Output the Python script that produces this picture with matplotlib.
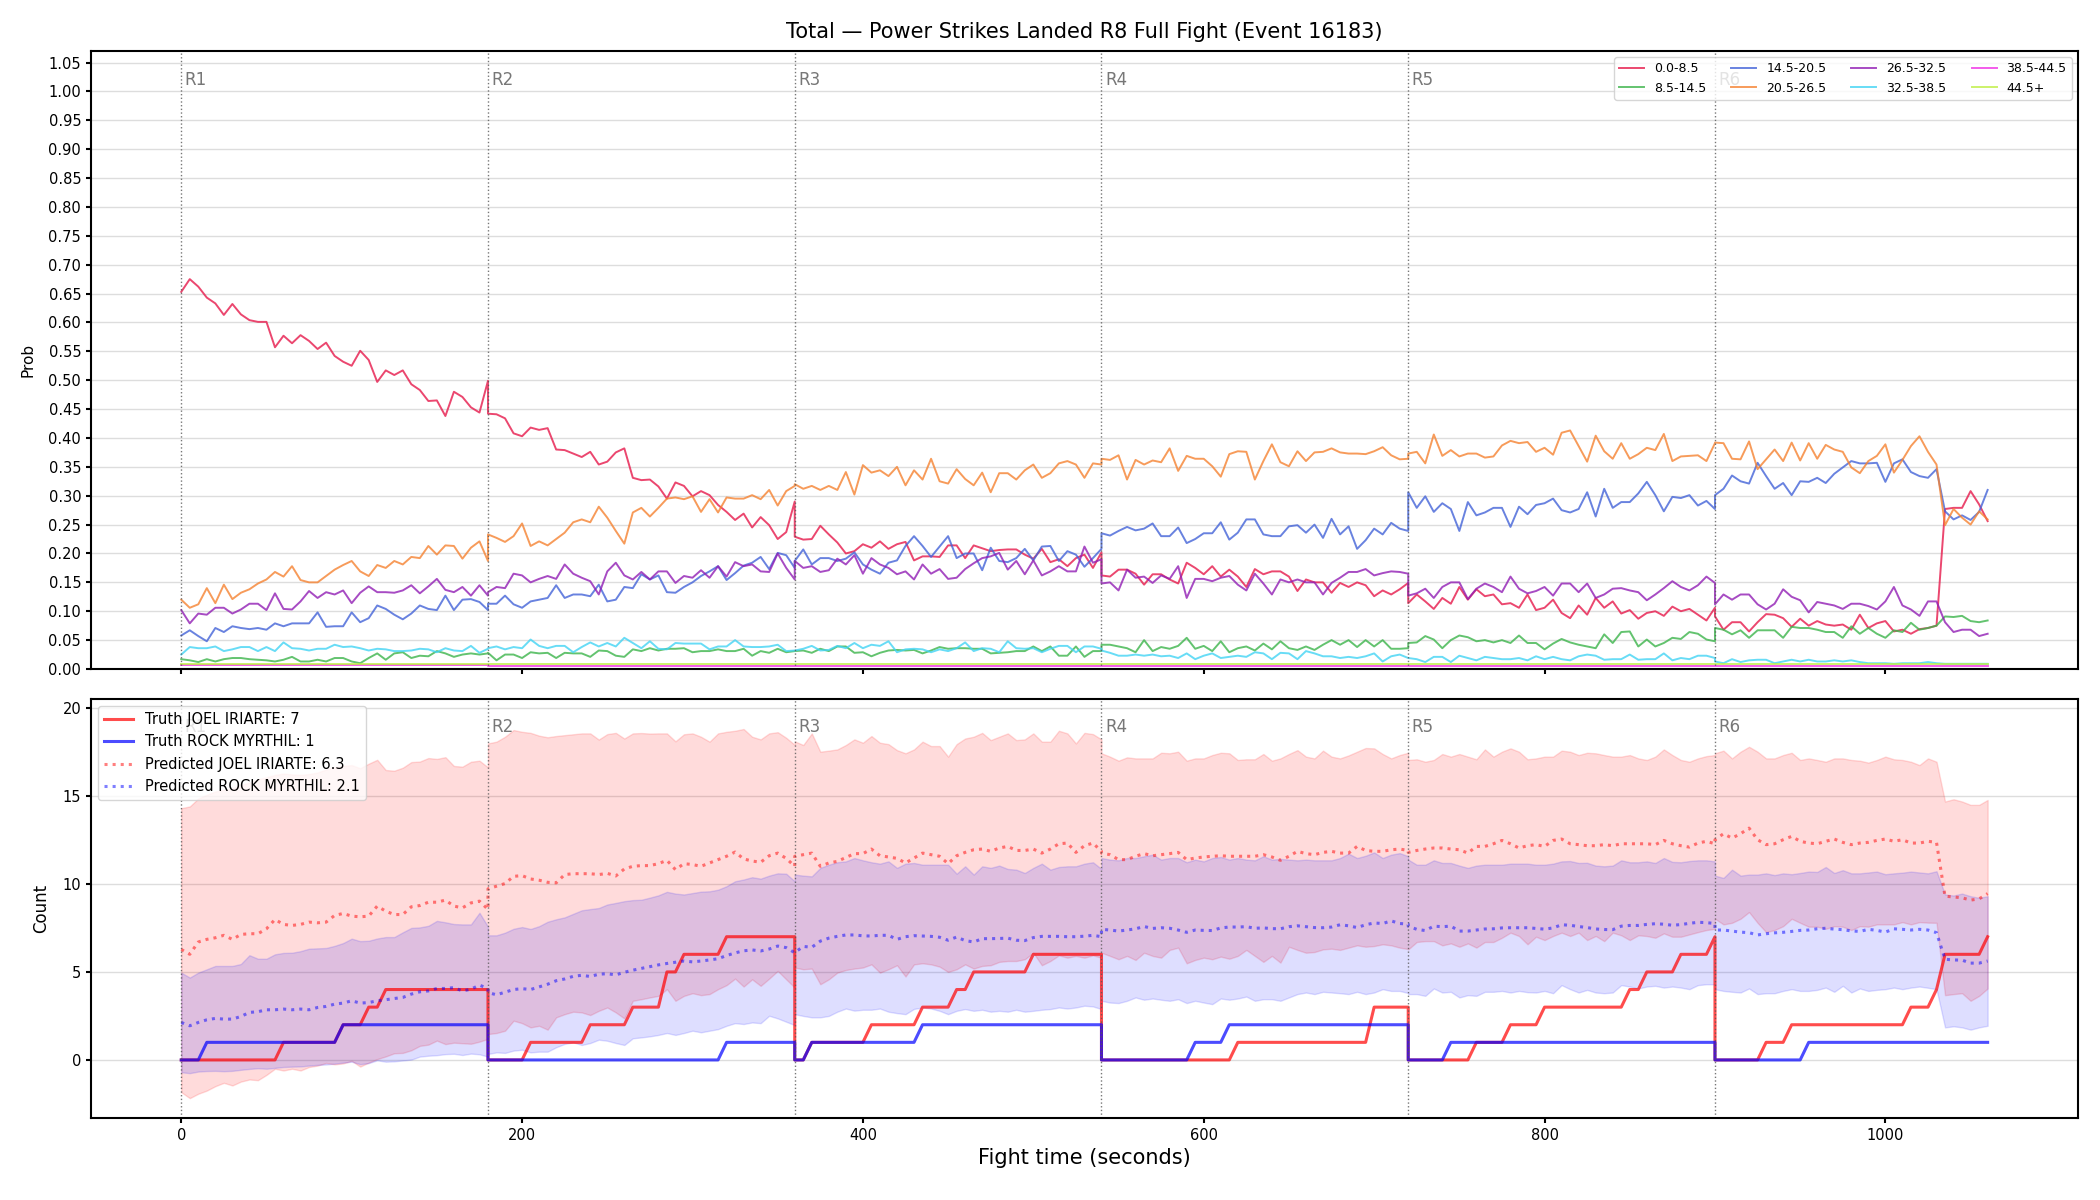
import numpy as np
import matplotlib
matplotlib.use('Agg')
import matplotlib.pyplot as plt
from matplotlib.ticker import MultipleLocator, FormatStrFormatter

# rounds, sampled every 5 s
round_starts = [0, 180, 360, 540, 720, 900]
round_ends = [180, 360, 540, 720, 900, 1060]
round_names = ['R1', 'R2', 'R3', 'R4', 'R5', 'R6']
step = 5

bins = ['0.0-8.5', '8.5-14.5', '14.5-20.5', '20.5-26.5',
        '26.5-32.5', '32.5-38.5', '38.5-44.5', '44.5+']
bin_colors = ['#e6194b', '#3cb44b', '#4363d8', '#f58231',
              '#911eb4', '#42d4f4', '#f032e6', '#bfef45']

p_0_8 = [
    0.653, 0.675, 0.662, 0.643, 0.633, 0.613, 0.632, 0.614, 0.604, 0.601, 0.601, 0.557, 0.577, 0.564, 0.578, 0.568, 0.554, 0.565, 0.542,
    0.532, 0.525, 0.551, 0.535, 0.497, 0.517, 0.509, 0.517, 0.493, 0.483, 0.464, 0.465, 0.438, 0.480, 0.471, 0.453, 0.444, 0.499,
    0.442, 0.441, 0.434, 0.408, 0.403, 0.418, 0.414, 0.417, 0.380, 0.379, 0.373, 0.367, 0.376, 0.354, 0.359, 0.375, 0.382, 0.331, 0.327,
    0.328, 0.316, 0.295, 0.323, 0.317, 0.299, 0.308, 0.301, 0.284, 0.272, 0.258, 0.269, 0.245, 0.263, 0.249, 0.225, 0.237, 0.290,
    0.229, 0.224, 0.225, 0.248, 0.233, 0.219, 0.200, 0.204, 0.216, 0.210, 0.221, 0.208, 0.216, 0.220, 0.188, 0.195, 0.195, 0.194, 0.214,
    0.214, 0.192, 0.214, 0.209, 0.204, 0.206, 0.207, 0.207, 0.198, 0.191, 0.208, 0.185, 0.190, 0.178, 0.192, 0.198, 0.175, 0.202,
    0.162, 0.160, 0.172, 0.172, 0.165, 0.146, 0.164, 0.164, 0.155, 0.148, 0.184, 0.175, 0.164, 0.178, 0.160, 0.172, 0.160, 0.142, 0.173,
    0.164, 0.169, 0.169, 0.160, 0.135, 0.155, 0.150, 0.150, 0.132, 0.149, 0.142, 0.150, 0.145, 0.126, 0.136, 0.129, 0.138, 0.149,
    0.114, 0.129, 0.117, 0.104, 0.123, 0.113, 0.142, 0.120, 0.138, 0.126, 0.129, 0.112, 0.114, 0.106, 0.129, 0.102, 0.106, 0.120, 0.097,
    0.088, 0.110, 0.094, 0.123, 0.106, 0.117, 0.096, 0.102, 0.087, 0.097, 0.100, 0.092, 0.108, 0.100, 0.104, 0.094, 0.084, 0.106,
    0.091, 0.068, 0.081, 0.081, 0.065, 0.081, 0.095, 0.094, 0.088, 0.073, 0.087, 0.075, 0.083, 0.077, 0.075, 0.077, 0.068,
    0.094, 0.071, 0.079, 0.083, 0.065, 0.068, 0.061, 0.069, 0.071, 0.075, 0.277, 0.279, 0.279, 0.308, 0.285, 0.256,
]
p_8_14 = [
    0.017, 0.015, 0.012, 0.017, 0.013, 0.017, 0.019, 0.019, 0.017, 0.016, 0.015, 0.013, 0.016, 0.021, 0.013, 0.013, 0.016, 0.013, 0.019,
    0.019, 0.013, 0.010, 0.019, 0.027, 0.016, 0.027, 0.029, 0.019, 0.023, 0.022, 0.031, 0.027, 0.021, 0.025, 0.027, 0.025, 0.027,
    0.028, 0.015, 0.025, 0.025, 0.019, 0.029, 0.027, 0.028, 0.019, 0.028, 0.027, 0.027, 0.021, 0.032, 0.031, 0.023, 0.021, 0.034, 0.031,
    0.036, 0.032, 0.035, 0.035, 0.036, 0.029, 0.031, 0.031, 0.034, 0.031, 0.031, 0.035, 0.023, 0.031, 0.028, 0.035, 0.029, 0.031,
    0.031, 0.032, 0.028, 0.035, 0.031, 0.039, 0.039, 0.028, 0.029, 0.022, 0.028, 0.032, 0.033, 0.032, 0.033, 0.027, 0.032, 0.038, 0.035,
    0.036, 0.036, 0.035, 0.035, 0.027, 0.028, 0.029, 0.031, 0.031, 0.039, 0.031, 0.039, 0.023, 0.023, 0.039, 0.021, 0.031, 0.031,
    0.042, 0.042, 0.039, 0.036, 0.029, 0.050, 0.031, 0.038, 0.035, 0.040, 0.054, 0.035, 0.040, 0.031, 0.048, 0.029, 0.036, 0.039, 0.032,
    0.044, 0.034, 0.048, 0.036, 0.033, 0.039, 0.033, 0.042, 0.050, 0.042, 0.050, 0.038, 0.050, 0.039, 0.050, 0.035, 0.035, 0.036,
    0.045, 0.046, 0.057, 0.051, 0.036, 0.050, 0.058, 0.055, 0.048, 0.050, 0.046, 0.050, 0.045, 0.058, 0.045, 0.045, 0.034, 0.044, 0.052,
    0.046, 0.042, 0.039, 0.036, 0.060, 0.045, 0.064, 0.065, 0.039, 0.051, 0.039, 0.045, 0.054, 0.052, 0.064, 0.061, 0.051, 0.048,
    0.071, 0.068, 0.060, 0.067, 0.054, 0.067, 0.067, 0.067, 0.054, 0.073, 0.071, 0.071, 0.068, 0.064, 0.064, 0.054, 0.074,
    0.061, 0.071, 0.061, 0.054, 0.067, 0.064, 0.080, 0.068, 0.071, 0.075, 0.091, 0.090, 0.092, 0.083, 0.081, 0.084,
]
p_14_20 = [
    0.058, 0.067, 0.057, 0.048, 0.071, 0.064, 0.074, 0.071, 0.069, 0.071, 0.068, 0.079, 0.074, 0.079, 0.079, 0.079, 0.098, 0.073, 0.074,
    0.074, 0.098, 0.081, 0.088, 0.110, 0.104, 0.094, 0.086, 0.096, 0.110, 0.104, 0.102, 0.127, 0.102, 0.120, 0.121, 0.116, 0.102,
    0.113, 0.113, 0.127, 0.112, 0.106, 0.117, 0.120, 0.123, 0.145, 0.123, 0.129, 0.129, 0.126, 0.146, 0.117, 0.120, 0.142, 0.140, 0.164,
    0.155, 0.162, 0.133, 0.132, 0.142, 0.150, 0.161, 0.169, 0.178, 0.154, 0.166, 0.179, 0.184, 0.194, 0.173, 0.201, 0.197, 0.175,
    0.187, 0.207, 0.181, 0.192, 0.192, 0.187, 0.191, 0.202, 0.181, 0.172, 0.165, 0.184, 0.188, 0.213, 0.230, 0.213, 0.194, 0.212, 0.230,
    0.192, 0.200, 0.200, 0.171, 0.210, 0.187, 0.185, 0.192, 0.208, 0.188, 0.212, 0.213, 0.187, 0.204, 0.198, 0.177, 0.192, 0.208,
    0.235, 0.231, 0.239, 0.246, 0.240, 0.243, 0.252, 0.230, 0.230, 0.245, 0.218, 0.225, 0.235, 0.235, 0.254, 0.224, 0.236, 0.259, 0.259,
    0.233, 0.230, 0.230, 0.247, 0.249, 0.236, 0.250, 0.227, 0.260, 0.233, 0.247, 0.208, 0.223, 0.243, 0.233, 0.253, 0.243, 0.239,
    0.306, 0.279, 0.299, 0.272, 0.287, 0.277, 0.239, 0.289, 0.266, 0.271, 0.279, 0.279, 0.246, 0.281, 0.268, 0.284, 0.287, 0.295, 0.275,
    0.271, 0.277, 0.306, 0.264, 0.312, 0.279, 0.289, 0.289, 0.304, 0.324, 0.301, 0.273, 0.298, 0.296, 0.301, 0.283, 0.291, 0.277,
    0.301, 0.312, 0.335, 0.325, 0.321, 0.357, 0.334, 0.312, 0.322, 0.301, 0.325, 0.324, 0.331, 0.322, 0.338, 0.349, 0.360,
    0.356, 0.356, 0.357, 0.324, 0.356, 0.363, 0.341, 0.334, 0.331, 0.346, 0.273, 0.259, 0.266, 0.258, 0.272, 0.310,
]
p_20_26 = [
    0.120, 0.106, 0.112, 0.140, 0.114, 0.146, 0.121, 0.132, 0.138, 0.148, 0.155, 0.168, 0.160, 0.178, 0.154, 0.150, 0.150, 0.161, 0.172,
    0.180, 0.187, 0.169, 0.161, 0.180, 0.175, 0.187, 0.181, 0.194, 0.192, 0.213, 0.198, 0.214, 0.213, 0.191, 0.210, 0.221, 0.187,
    0.233, 0.227, 0.220, 0.230, 0.252, 0.213, 0.221, 0.214, 0.225, 0.236, 0.254, 0.259, 0.254, 0.281, 0.262, 0.239, 0.217, 0.271, 0.279,
    0.264, 0.279, 0.295, 0.297, 0.294, 0.299, 0.272, 0.294, 0.271, 0.297, 0.295, 0.295, 0.301, 0.294, 0.310, 0.283, 0.308, 0.317,
    0.320, 0.312, 0.317, 0.310, 0.317, 0.310, 0.341, 0.302, 0.353, 0.340, 0.344, 0.334, 0.350, 0.318, 0.344, 0.328, 0.364, 0.325, 0.321,
    0.346, 0.329, 0.318, 0.340, 0.306, 0.339, 0.339, 0.328, 0.344, 0.354, 0.331, 0.339, 0.356, 0.360, 0.354, 0.331, 0.356, 0.354,
    0.364, 0.362, 0.370, 0.328, 0.362, 0.354, 0.361, 0.358, 0.382, 0.343, 0.369, 0.364, 0.364, 0.351, 0.333, 0.372, 0.377, 0.376, 0.328,
    0.360, 0.389, 0.358, 0.351, 0.377, 0.360, 0.375, 0.376, 0.382, 0.375, 0.373, 0.373, 0.372, 0.377, 0.384, 0.370, 0.363, 0.364,
    0.373, 0.376, 0.356, 0.406, 0.369, 0.379, 0.368, 0.373, 0.373, 0.366, 0.368, 0.387, 0.395, 0.391, 0.393, 0.376, 0.383, 0.371, 0.409,
    0.413, 0.386, 0.359, 0.404, 0.377, 0.364, 0.391, 0.364, 0.372, 0.383, 0.379, 0.407, 0.360, 0.368, 0.369, 0.370, 0.360, 0.391,
    0.392, 0.391, 0.364, 0.363, 0.394, 0.346, 0.363, 0.380, 0.360, 0.392, 0.361, 0.391, 0.364, 0.388, 0.380, 0.376, 0.349,
    0.339, 0.360, 0.369, 0.389, 0.340, 0.362, 0.386, 0.403, 0.376, 0.354, 0.249, 0.277, 0.262, 0.250, 0.273, 0.259,
]
p_26_32 = [
    0.102, 0.079, 0.096, 0.094, 0.106, 0.106, 0.096, 0.103, 0.113, 0.113, 0.102, 0.131, 0.104, 0.103, 0.117, 0.135, 0.123, 0.133, 0.129,
    0.136, 0.114, 0.132, 0.143, 0.133, 0.133, 0.132, 0.136, 0.145, 0.131, 0.143, 0.156, 0.137, 0.133, 0.142, 0.127, 0.145, 0.127,
    0.133, 0.142, 0.140, 0.165, 0.162, 0.150, 0.156, 0.161, 0.156, 0.181, 0.165, 0.158, 0.152, 0.129, 0.169, 0.184, 0.162, 0.155, 0.168,
    0.155, 0.169, 0.169, 0.149, 0.161, 0.158, 0.171, 0.158, 0.178, 0.160, 0.185, 0.178, 0.181, 0.169, 0.168, 0.200, 0.175, 0.155,
    0.187, 0.175, 0.178, 0.168, 0.171, 0.191, 0.181, 0.197, 0.165, 0.192, 0.181, 0.175, 0.164, 0.169, 0.155, 0.181, 0.165, 0.173, 0.156,
    0.158, 0.173, 0.183, 0.192, 0.195, 0.201, 0.172, 0.187, 0.164, 0.188, 0.162, 0.169, 0.178, 0.169, 0.169, 0.212, 0.184, 0.190,
    0.148, 0.150, 0.136, 0.172, 0.158, 0.160, 0.149, 0.162, 0.156, 0.178, 0.123, 0.156, 0.156, 0.152, 0.158, 0.161, 0.146, 0.136, 0.165,
    0.148, 0.129, 0.155, 0.150, 0.155, 0.150, 0.150, 0.129, 0.149, 0.158, 0.168, 0.168, 0.173, 0.162, 0.166, 0.169, 0.168, 0.165,
    0.127, 0.131, 0.139, 0.123, 0.142, 0.150, 0.150, 0.121, 0.139, 0.148, 0.142, 0.133, 0.160, 0.139, 0.131, 0.135, 0.142, 0.127, 0.148,
    0.148, 0.133, 0.148, 0.123, 0.129, 0.139, 0.140, 0.136, 0.133, 0.119, 0.129, 0.140, 0.152, 0.142, 0.136, 0.145, 0.160, 0.149,
    0.112, 0.129, 0.120, 0.129, 0.129, 0.112, 0.103, 0.113, 0.138, 0.125, 0.119, 0.098, 0.116, 0.113, 0.110, 0.104, 0.113,
    0.113, 0.109, 0.103, 0.117, 0.142, 0.110, 0.103, 0.092, 0.117, 0.117, 0.081, 0.064, 0.068, 0.068, 0.057, 0.061,
]
p_32_38 = [
    0.025, 0.038, 0.036, 0.036, 0.039, 0.031, 0.034, 0.038, 0.038, 0.031, 0.038, 0.031, 0.046, 0.036, 0.035, 0.032, 0.035, 0.035, 0.042,
    0.038, 0.039, 0.036, 0.032, 0.035, 0.034, 0.031, 0.031, 0.032, 0.035, 0.034, 0.029, 0.036, 0.032, 0.031, 0.040, 0.028, 0.035,
    0.036, 0.039, 0.034, 0.038, 0.036, 0.051, 0.040, 0.036, 0.040, 0.040, 0.029, 0.038, 0.046, 0.039, 0.045, 0.039, 0.054, 0.045, 0.036,
    0.048, 0.035, 0.034, 0.045, 0.044, 0.044, 0.044, 0.034, 0.039, 0.039, 0.050, 0.039, 0.038, 0.038, 0.039, 0.042, 0.031, 0.032,
    0.032, 0.035, 0.040, 0.032, 0.033, 0.040, 0.036, 0.045, 0.036, 0.042, 0.040, 0.048, 0.029, 0.034, 0.035, 0.034, 0.029, 0.034, 0.031,
    0.036, 0.046, 0.031, 0.036, 0.035, 0.029, 0.048, 0.036, 0.035, 0.036, 0.029, 0.035, 0.040, 0.040, 0.029, 0.039, 0.039, 0.035,
    0.032, 0.028, 0.023, 0.023, 0.025, 0.023, 0.025, 0.022, 0.023, 0.019, 0.027, 0.017, 0.023, 0.027, 0.019, 0.021, 0.023, 0.021, 0.029,
    0.027, 0.017, 0.028, 0.027, 0.017, 0.031, 0.027, 0.022, 0.022, 0.019, 0.021, 0.019, 0.022, 0.027, 0.013, 0.022, 0.025, 0.019,
    0.019, 0.017, 0.012, 0.021, 0.021, 0.012, 0.023, 0.019, 0.015, 0.021, 0.019, 0.017, 0.017, 0.019, 0.015, 0.022, 0.017, 0.021, 0.017,
    0.015, 0.022, 0.025, 0.023, 0.016, 0.017, 0.017, 0.025, 0.016, 0.017, 0.017, 0.027, 0.015, 0.019, 0.017, 0.023, 0.023, 0.019,
    0.013, 0.010, 0.017, 0.012, 0.015, 0.016, 0.016, 0.010, 0.013, 0.016, 0.013, 0.016, 0.013, 0.013, 0.015, 0.013, 0.015,
    0.012, 0.010, 0.010, 0.010, 0.009, 0.010, 0.010, 0.010, 0.012, 0.010, 0.009, 0.009, 0.009, 0.009, 0.009, 0.009,
]
# the two top bins sit flat near zero in every round
p_38_44_by_round = [0.007, 0.006, 0.006, 0.005, 0.005, 0.005]
p_44_by_round = [0.009, 0.009, 0.009, 0.009, 0.009, 0.009]

# bottom panel: counts
name_a = 'JOEL IRIARTE'
name_b = 'ROCK MYRTHIL'

truth_a = ([0] * 12 + [1] * 7 + [2] * 3 + [3] * 2 + [4] * 13
           + [0] * 5 + [1] * 7 + [2] * 5 + [3] * 4 + [5] * 2 + [6] * 5 + [7] * 9
           + [0] * 2 + [1] * 7 + [2] * 6 + [3] * 4 + [4] * 2 + [5] * 7 + [6] * 9
           + [0] * 16 + [1] * 16 + [3] * 5
           + [0] * 8 + [1] * 4 + [2] * 4 + [3] * 10 + [4] * 2 + [5] * 4 + [6] * 4 + [7] * 1
           + [0] * 6 + [1] * 3 + [2] * 14 + [3] * 3 + [4] * 1 + [6] * 5 + [7] * 1)
truth_b = ([0] * 3 + [1] * 16 + [2] * 18
           + [0] * 28 + [1] * 9
           + [0] * 2 + [1] * 13 + [2] * 22
           + [0] * 11 + [1] * 4 + [2] * 22
           + [0] * 5 + [1] * 32
           + [0] * 11 + [1] * 22)

pred_a = [
    6.28, 6.00, 6.70, 6.85, 6.94, 7.08, 6.85, 7.13, 7.17, 7.17, 7.45, 7.98, 7.70, 7.64, 7.70, 7.83, 7.79, 7.83, 8.21,
    8.32, 8.17, 8.13, 8.17, 8.74, 8.45, 8.26, 8.26, 8.70, 8.77, 8.96, 8.96, 9.08, 8.74, 8.64, 8.92, 9.02, 8.55,
    9.72, 9.87, 10.02, 10.43, 10.47, 10.28, 10.21, 10.09, 10.06, 10.53, 10.58, 10.58, 10.58, 10.53, 10.60, 10.45, 10.85, 11.00, 11.04,
    11.04, 11.15, 11.34, 10.81, 11.15, 11.10, 11.00, 11.19, 11.38, 11.57, 11.81, 11.42, 11.30, 11.23, 11.60, 11.75, 11.45, 11.00,
    11.57, 11.66, 11.75, 11.00, 11.19, 11.28, 11.50, 11.72, 11.72, 11.98, 11.60, 11.53, 11.45, 11.19, 11.47, 11.75, 11.66, 11.57, 11.15,
    11.60, 11.79, 11.94, 11.98, 11.85, 12.04, 12.13, 11.90, 11.90, 11.98, 11.75, 11.98, 12.28, 12.32, 11.79, 12.17, 12.32, 11.85,
    11.75, 11.66, 11.38, 11.38, 11.57, 11.72, 11.60, 11.66, 11.72, 11.79, 11.38, 11.47, 11.53, 11.57, 11.60, 11.57, 11.57, 11.57, 11.57,
    11.66, 11.53, 11.34, 11.57, 11.85, 11.72, 11.66, 11.79, 11.85, 11.75, 11.75, 12.13, 11.90, 11.85, 11.85, 11.94, 11.98, 11.90,
    11.79, 11.90, 11.98, 12.04, 12.04, 11.98, 11.94, 11.75, 12.13, 12.13, 12.28, 12.47, 12.28, 12.04, 12.17, 12.23, 12.13, 12.47, 12.55,
    12.28, 12.23, 12.17, 12.17, 12.23, 12.17, 12.28, 12.28, 12.28, 12.28, 12.23, 12.47, 12.28, 12.17, 12.09, 12.32, 12.42, 12.28,
    12.51, 12.85, 12.60, 12.85, 13.17, 12.51, 12.23, 12.28, 12.51, 12.70, 12.42, 12.32, 12.28, 12.42, 12.55, 12.36, 12.23,
    12.32, 12.36, 12.47, 12.55, 12.42, 12.51, 12.32, 12.32, 12.42, 12.36, 9.30, 9.26, 9.21, 9.08, 9.15, 9.45,
]
pred_b = [
    2.13, 1.94, 2.13, 2.28, 2.36, 2.32, 2.32, 2.47, 2.70, 2.74, 2.85, 2.85, 2.89, 2.85, 2.89, 2.85, 2.98, 3.04, 3.17,
    3.23, 3.36, 3.23, 3.26, 3.36, 3.42, 3.49, 3.55, 3.74, 3.87, 3.92, 4.06, 4.06, 4.11, 3.92, 4.02, 4.25, 4.06,
    3.83, 3.70, 3.85, 4.00, 4.05, 4.00, 4.15, 4.30, 4.50, 4.60, 4.75, 4.81, 4.74, 4.87, 4.90, 4.83, 4.98, 5.10, 5.20,
    5.30, 5.40, 5.48, 5.55, 5.62, 5.57, 5.62, 5.68, 5.75, 5.93, 6.08, 6.20, 6.25, 6.19, 6.30, 6.47, 6.38, 6.09,
    6.10, 6.45, 6.40, 6.75, 6.92, 7.02, 7.10, 7.10, 7.05, 7.04, 7.08, 7.08, 6.85, 7.00, 7.06, 7.04, 7.02, 6.97, 6.80,
    6.98, 6.78, 6.70, 6.89, 6.89, 6.90, 6.92, 6.80, 6.78, 6.95, 7.02, 7.02, 7.02, 7.00, 7.00, 7.03, 7.08, 7.00,
    7.42, 7.38, 7.32, 7.38, 7.45, 7.58, 7.47, 7.51, 7.48, 7.38, 7.25, 7.38, 7.36, 7.35, 7.50, 7.55, 7.55, 7.57, 7.48,
    7.50, 7.46, 7.45, 7.57, 7.62, 7.57, 7.52, 7.51, 7.55, 7.68, 7.62, 7.52, 7.68, 7.78, 7.75, 7.90, 7.75, 7.72,
    7.60, 7.42, 7.35, 7.60, 7.57, 7.60, 7.32, 7.32, 7.38, 7.44, 7.45, 7.50, 7.51, 7.51, 7.51, 7.47, 7.43, 7.50, 7.68,
    7.65, 7.58, 7.52, 7.44, 7.41, 7.40, 7.60, 7.64, 7.64, 7.70, 7.74, 7.71, 7.65, 7.69, 7.76, 7.82, 7.80, 7.75,
    7.38, 7.38, 7.32, 7.26, 7.23, 7.10, 7.17, 7.22, 7.25, 7.30, 7.36, 7.38, 7.45, 7.48, 7.43, 7.40, 7.33,
    7.30, 7.42, 7.36, 7.26, 7.45, 7.42, 7.38, 7.42, 7.38, 7.23, 5.72, 5.68, 5.67, 5.50, 5.50, 5.62,
]
upper_a = [
    14.30, 14.40, 14.85, 15.06, 15.25, 15.34, 15.43, 15.62, 15.75, 15.94, 16.06, 16.19, 16.27, 16.22, 16.19, 16.24, 16.33, 16.50, 16.64,
    16.70, 16.75, 16.57, 16.83, 17.05, 16.47, 16.43, 16.60, 16.92, 16.95, 17.15, 17.10, 17.20, 16.70, 16.66, 16.94, 17.00, 16.62,
    17.98, 18.08, 18.36, 18.74, 18.64, 18.58, 18.42, 18.33, 18.40, 18.45, 18.50, 18.55, 18.55, 18.20, 18.51, 18.58, 18.26, 18.55, 18.57,
    18.54, 18.55, 18.55, 18.10, 18.50, 18.55, 18.36, 18.08, 18.55, 18.64, 18.70, 18.80, 18.36, 18.21, 18.55, 18.62, 18.30, 17.90,
    18.10, 17.89, 18.55, 17.51, 17.57, 17.64, 17.89, 18.21, 18.02, 18.40, 18.02, 17.94, 17.60, 17.42, 17.64, 18.08, 17.83, 17.83, 17.23,
    17.94, 18.26, 18.36, 18.58, 18.17, 18.36, 18.55, 18.17, 18.21, 18.55, 18.08, 18.08, 18.70, 18.55, 17.98, 18.58, 18.51, 18.21,
    17.42, 17.23, 17.00, 17.19, 17.13, 17.13, 17.13, 17.45, 17.42, 17.51, 17.00, 17.13, 17.13, 17.32, 17.45, 17.42, 17.04, 17.08, 17.08,
    17.38, 17.00, 17.13, 17.38, 17.60, 17.23, 17.13, 17.57, 17.23, 17.13, 17.30, 17.51, 17.72, 17.70, 17.38, 17.13, 17.32, 17.45,
    17.04, 17.08, 16.94, 17.04, 17.38, 17.23, 17.38, 17.23, 17.08, 17.64, 17.23, 17.51, 17.70, 17.51, 17.08, 17.13, 17.23, 17.23, 17.57,
    17.51, 17.32, 17.45, 17.42, 17.32, 17.23, 17.23, 17.32, 17.13, 17.04, 17.23, 17.64, 17.32, 17.04, 16.94, 17.13, 17.26, 17.32,
    17.42, 17.57, 17.13, 17.51, 17.79, 17.51, 17.13, 17.13, 17.32, 17.45, 17.04, 17.13, 17.04, 16.94, 17.13, 17.13, 17.04,
    17.00, 16.89, 17.04, 17.23, 17.08, 17.04, 16.94, 16.75, 17.13, 16.94, 14.68, 14.81, 14.68, 14.49, 14.49, 14.77,
]
lower_a = [
    -1.83, -2.17, -1.92, -1.74, -1.49, -1.30, -1.45, -1.23, -1.11, -1.15, -0.85, -0.50, -0.60, -0.50, -0.60, -0.40, -0.32, -0.17, -0.25,
    -0.20, -0.05, -0.38, -0.15, 0.05, 0.20, 0.38, 0.40, 0.55, 0.80, 0.87, 1.10, 0.90, 0.98, 0.95, 0.92, 1.04, 1.20,
    1.47, 1.53, 1.66, 2.23, 2.09, 1.85, 1.94, 1.72, 2.42, 2.60, 2.74, 2.70, 2.55, 2.79, 2.98, 2.70, 2.36, 3.36, 3.45,
    3.55, 3.64, 4.02, 3.36, 3.64, 3.79, 3.68, 3.74, 4.02, 4.25, 4.62, 4.17, 4.58, 4.21, 4.62, 5.06, 4.58, 4.11,
    5.25, 5.15, 5.19, 4.30, 4.58, 4.96, 5.11, 5.19, 5.25, 5.43, 4.96, 5.15, 5.38, 4.74, 5.43, 5.49, 5.43, 5.30, 5.00,
    5.15, 5.43, 5.19, 5.34, 5.38, 5.57, 5.62, 5.62, 5.72, 6.09, 5.38, 5.62, 5.94, 5.81, 5.91, 5.81, 5.94, 5.81,
    6.09, 5.91, 5.72, 5.91, 5.68, 6.09, 5.91, 5.81, 6.25, 6.38, 5.49, 5.68, 5.81, 5.72, 5.87, 5.75, 5.91, 6.25, 5.91,
    5.57, 5.91, 5.53, 6.43, 6.25, 6.09, 6.13, 6.28, 6.32, 6.25, 6.38, 6.51, 6.43, 6.47, 6.57, 6.51, 6.38, 6.30,
    6.28, 6.70, 6.75, 6.75, 6.51, 6.62, 6.43, 6.62, 6.38, 6.70, 6.70, 6.94, 7.23, 7.04, 6.57, 7.00, 6.81, 7.04, 7.23,
    7.04, 7.23, 6.81, 7.04, 6.75, 7.23, 7.08, 6.81, 7.08, 7.04, 6.94, 7.19, 7.00, 7.00, 7.13, 7.26, 7.38, 7.45,
    8.02, 7.70, 7.79, 8.02, 8.40, 7.79, 7.26, 7.38, 7.60, 8.02, 7.79, 7.57, 7.57, 7.45, 7.60, 7.57, 7.38,
    7.60, 7.57, 7.70, 7.70, 7.70, 7.83, 7.70, 7.83, 7.80, 7.79, 3.68, 3.74, 3.79, 3.36, 3.64, 4.06,
]
upper_b = [
    4.96, 4.68, 4.96, 5.15, 5.34, 5.34, 5.34, 5.45, 5.95, 5.75, 5.75, 6.00, 6.08, 6.09, 6.18, 6.32, 6.34, 6.36, 6.48,
    6.64, 6.89, 6.75, 6.77, 6.90, 6.98, 6.98, 7.25, 7.50, 7.53, 7.62, 7.90, 7.82, 7.72, 7.70, 7.70, 8.36, 7.57,
    7.08, 7.08, 7.23, 7.45, 7.55, 7.44, 7.60, 7.85, 7.99, 8.10, 8.30, 8.50, 8.57, 8.63, 8.83, 8.92, 9.02, 9.08, 9.10,
    9.22, 9.35, 9.55, 9.45, 9.40, 9.48, 9.56, 9.58, 9.67, 9.87, 10.15, 10.25, 10.38, 10.30, 10.47, 10.60, 10.58, 10.15,
    10.53, 10.47, 10.43, 10.91, 11.09, 11.23, 11.28, 11.47, 11.34, 11.23, 11.15, 11.28, 10.91, 11.15, 11.19, 11.09, 11.09, 11.09, 11.09,
    10.58, 11.00, 10.53, 11.00, 10.91, 11.04, 10.85, 10.81, 10.62, 10.91, 11.15, 10.81, 10.96, 11.00, 11.00, 11.15, 11.23, 10.85,
    11.47, 11.38, 11.34, 11.47, 11.47, 11.57, 11.66, 11.38, 11.47, 11.47, 11.23, 11.38, 11.28, 11.47, 11.53, 11.38, 11.47, 11.38, 11.34,
    11.57, 11.38, 11.42, 11.38, 11.34, 11.38, 11.34, 11.34, 11.34, 11.47, 11.72, 11.47, 11.60, 11.79, 11.47, 11.66, 11.75, 11.57,
    11.38, 11.09, 11.09, 11.34, 11.19, 11.19, 11.04, 10.91, 11.04, 11.09, 11.09, 11.09, 11.15, 11.15, 11.15, 11.09, 11.09, 11.15, 11.28,
    11.30, 11.19, 11.20, 11.04, 11.00, 11.04, 11.34, 11.23, 11.23, 11.28, 11.19, 11.47, 11.25, 11.23, 11.30, 11.34, 11.34, 11.28,
    10.47, 10.34, 10.81, 10.47, 10.53, 10.53, 10.60, 10.50, 10.60, 10.55, 10.62, 10.70, 10.68, 10.96, 10.62, 10.78, 10.60,
    10.60, 10.65, 10.70, 10.55, 10.60, 10.64, 10.70, 10.65, 10.60, 10.72, 9.40, 9.34, 9.45, 9.30, 9.21, 9.30,
]
lower_b = [
    -0.70, -0.75, -0.66, -0.63, -0.62, -0.64, -0.62, -0.56, -0.51, -0.47, -0.50, -0.45, -0.40, -0.38, -0.37, -0.32, -0.28, -0.26, -0.21,
    -0.15, -0.10, -0.24, -0.18, -0.02, -0.10, -0.08, -0.03, 0.02, 0.19, 0.24, 0.27, 0.33, 0.35, 0.28, 0.36, 0.32, 0.19,
    0.34, 0.43, 0.40, 0.53, 0.58, 0.43, 0.47, 0.47, 0.72, 0.91, 1.00, 0.85, 0.96, 1.15, 1.09, 0.96, 0.85, 1.23, 1.28,
    1.34, 1.42, 1.53, 1.42, 1.53, 1.66, 1.57, 1.66, 1.75, 1.94, 2.09, 2.04, 2.13, 2.09, 2.51, 2.36, 2.17, 1.98,
    2.60, 2.50, 2.42, 2.42, 2.50, 2.74, 2.92, 2.80, 2.85, 2.85, 2.92, 2.74, 2.66, 2.60, 2.90, 2.98, 2.92, 2.79, 2.60,
    2.79, 2.89, 2.79, 2.85, 2.74, 2.79, 2.74, 2.85, 2.74, 2.79, 2.85, 2.89, 2.98, 2.92, 2.98, 3.08, 3.04, 2.89,
    3.36, 3.26, 3.23, 3.36, 3.55, 3.42, 3.49, 3.42, 3.36, 3.45, 3.23, 3.36, 3.26, 3.17, 3.49, 3.42, 3.49, 3.60, 3.36,
    3.45, 3.45, 3.36, 3.55, 3.74, 3.83, 3.74, 3.87, 3.83, 3.79, 3.74, 3.87, 3.74, 3.83, 4.02, 3.92, 3.92, 3.80,
    3.74, 3.74, 3.64, 4.06, 3.83, 3.87, 3.55, 3.68, 3.64, 3.87, 3.87, 3.92, 3.83, 3.92, 3.85, 3.83, 3.92, 3.79, 4.25,
    4.02, 3.83, 3.98, 3.83, 3.79, 3.83, 4.25, 4.17, 4.06, 4.17, 4.21, 4.11, 4.17, 4.11, 4.02, 4.25, 4.30, 4.30,
    4.02, 3.92, 3.87, 3.83, 4.06, 3.74, 3.79, 3.79, 3.92, 4.02, 3.92, 3.92, 3.98, 4.11, 3.87, 4.21, 3.83,
    4.06, 3.92, 3.98, 4.02, 4.11, 4.02, 4.11, 4.17, 4.10, 4.02, 1.85, 1.91, 1.85, 1.72, 1.85, 1.94,
]

# time axis (each round restarts at its own boundary)
t = np.concatenate([np.arange(s, e + 1, step) for s, e in zip(round_starts, round_ends)])
per_round = [len(np.arange(s, e + 1, step)) for s, e in zip(round_starts, round_ends)]
p_38_44 = np.repeat(p_38_44_by_round, per_round)
p_44 = np.repeat(p_44_by_round, per_round)
prob_series = [p_0_8, p_8_14, p_14_20, p_20_26, p_26_32, p_32_38, p_38_44, p_44]

plt.rcParams['font.family'] = 'DejaVu Sans'
plt.rcParams['axes.linewidth'] = 1.5
plt.rcParams['xtick.major.width'] = 1.5
plt.rcParams['ytick.major.width'] = 1.5
plt.rcParams['xtick.labelsize'] = 10.5
plt.rcParams['ytick.labelsize'] = 10.5

fig, (ax1, ax2) = plt.subplots(2, 1, figsize=(21, 12), dpi=100, sharex=True,
                               gridspec_kw={'height_ratios': [1.475, 1]})
fig.subplots_adjust(left=0.0433, right=0.9895, top=0.9575, bottom=0.0683, hspace=0.058)

# --- top: probability per bin
for vals, lab, col in zip(prob_series, bins, bin_colors):
    ax1.plot(t, vals, color=col, lw=1.4, alpha=0.8, label=lab)

ax1.set_ylim(0, 1.07)
ax1.yaxis.set_major_locator(MultipleLocator(0.05))
ax1.yaxis.set_major_formatter(FormatStrFormatter('%.2f'))
ax1.grid(axis='y', color='#dddddd', lw=1)
ax1.set_axisbelow(True)
ax1.set_ylabel('Prob', fontsize=11, labelpad=9)
ax1.set_title('Total \u2014 Power Strikes Landed R8 Full Fight (Event 16183)', fontsize=15, pad=9)
ax1.legend(loc='upper right', ncol=4, fontsize=9)

for s, name in zip(round_starts, round_names):
    ax1.axvline(s, color='#555555', ls=':', lw=1, alpha=0.8)
    ax1.text(s + 2, 1.035, name, color='#777777', fontsize=12, va='top', ha='left')

# --- bottom: counts
ax2.fill_between(t, lower_a, upper_a, color='red', alpha=0.14)
ax2.fill_between(t, lower_b, upper_b, color='blue', alpha=0.13)
ax2.plot(t, truth_a, color='red', lw=2.2, alpha=0.7, label=f'Truth {name_a}: {truth_a[-1]}')
ax2.plot(t, truth_b, color='blue', lw=2.2, alpha=0.7, label=f'Truth {name_b}: {truth_b[-1]}')
ax2.plot(t, pred_a, color='red', lw=2.2, ls=':', alpha=0.5, label=f'Predicted {name_a}: {pred_a[0]:.1f}')
ax2.plot(t, pred_b, color='blue', lw=2.2, ls=':', alpha=0.5, label=f'Predicted {name_b}: {pred_b[0]:.1f}')

for s, name in zip(round_starts, round_names):
    ax2.axvline(s, color='#555555', ls=':', lw=1, alpha=0.8)
    ax2.text(s + 2, 19.4, name, color='#777777', fontsize=12, va='top', ha='left')

ax2.set_ylim(-3.3, 20.5)
ax2.yaxis.set_major_locator(MultipleLocator(5))
ax2.grid(axis='y', color='#dddddd', lw=1)
ax2.set_axisbelow(True)
ax2.set_ylabel('Count', fontsize=12, labelpad=9)
ax2.set_xlabel('Fight time (seconds)', fontsize=15)
ax2.set_xlim(-53, 1113)
ax2.legend(loc='upper left', fontsize=10.5)

fig.savefig('out.png', dpi=100)
